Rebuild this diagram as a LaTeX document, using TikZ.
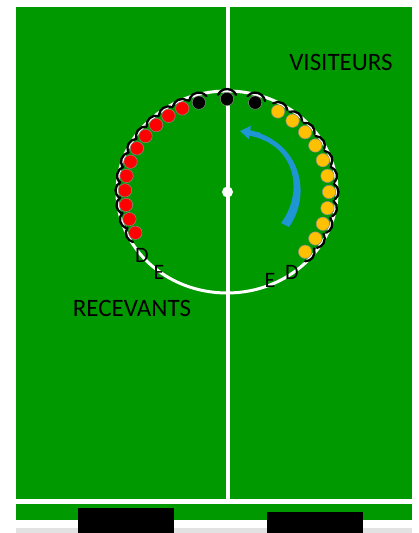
\documentclass[tikz,border=0pt]{standalone}
\usepackage{fontspec}
\setmainfont{Carlito}
\usetikzlibrary{arrows.meta}
\definecolor{pitch}{RGB}{0,153,0}
\definecolor{homered}{RGB}{255,0,0}
\definecolor{awayyellow}{RGB}{255,192,0}
\definecolor{arrowblue}{RGB}{30,150,212}
\definecolor{floorgray}{RGB}{226,226,226}

\begin{document}
\begin{tikzpicture}[x=1pt,y=1pt]
\useasboundingbox (0,0) rectangle (419,533);

% ===== FIELD =====
\fill[pitch] (16,13) rectangle (412,526);
\fill[floorgray] (16,0) rectangle (412,5);
\draw[white,line width=5] (16,31) -- (412,31);
\draw[white,line width=4] (227.5,526) -- (227.5,31);
% centre circle and spot
\draw[white,line width=3] (227,341) ellipse[x radius=110,y radius=101];
\fill[white] (227.5,341) circle[radius=5.5];
% benches
\fill[black] (78,0) rectangle (174,25);
\fill[black] (267,0) rectangle (363,21);

% ===== ROTATION ARROW =====
\fill[arrowblue] (281,310) .. controls (304,340) and (297,390) .. (246,398)
  -- (247,403.5) .. controls (302,392) and (312,338) .. (289,306) -- cycle;
\draw[arrowblue,line width=3,-{Triangle[length=10,width=13]}]
  (260,399) .. controls (253,400) .. (240,402);

% ===== PLAYERS =====
\tikzset{player/.style={draw=black!45,line width=0.5},
         shadow/.style={line width=2.3,line cap=round}}
% receivers (left)
\foreach \a in {116,125,...,206}{
  \draw[shadow,shift={(227,341)},shift={(\a:102 and 93)}]
    (\a-60:9.5) arc[start angle=\a-60,end angle=\a+50,radius=9.5];
  \filldraw[player,fill=homered,shift={(227,341)}] (\a:102 and 93) circle[radius=6.7];
}
% visitors (right)
\foreach \a in {60,50,...,-40}{
  \draw[shadow,shift={(227,341)},shift={(\a:102 and 93)}]
    (\a+60:9.5) arc[start angle=\a+60,end angle=\a-50,radius=9.5];
  \filldraw[player,fill=awayyellow,shift={(227,341)}] (\a:102 and 93) circle[radius=6.7];
}
% referees (top)
\foreach \a in {106,90,74}{
  \draw[shadow,shift={(227,341)},shift={(\a:102 and 93)}]
    (\a+65:10) arc[start angle=\a+65,end angle=\a-65,radius=10];
  \filldraw[player,fill=black,shift={(227,341)}] (\a:102 and 93) circle[radius=6.7];
}

% ===== LABELS =====
\node[font=\fontsize{25}{30}\selectfont] (visit) at (341,471) {VISITEURS};
\node[font=\fontsize{25}{30}\selectfont] (recev) at (132,225) {RECEVANTS};
\node[font=\fontsize{22}{26}\selectfont] (dleft) at (142,278) {D};
\node[font=\fontsize{22}{26}\selectfont] (eleft) at (159,261) {E};
\node[font=\fontsize{22}{26}\selectfont] (eright) at (270,253) {E};
\node[font=\fontsize{22}{26}\selectfont] (dright) at (292,261) {D};

\end{tikzpicture}
\end{document}
